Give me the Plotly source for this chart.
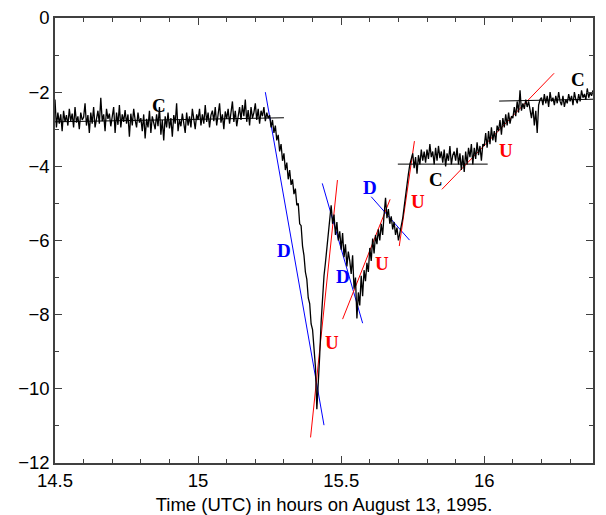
import plotly.graph_objects as go

T0 = 14.5
DT = 0.005

signal = [
    -2.20, -2.95, -2.55, -2.85, -2.60, -3.05, -2.50, -2.80, -2.62, -2.90,
    -2.45, -2.78, -2.58, -2.95, -2.40, -2.82, -2.65, -3.00, -2.55, -2.75,
    -2.68, -2.30, -2.90, -2.62, -3.10, -2.55, -2.85, -2.40, -2.95, -2.70,
    -2.50, -2.85, -2.15, -2.78, -2.60, -3.05, -2.45, -2.72, -2.58, -2.92,
    -2.62, -2.40, -3.10, -2.55, -2.88, -2.35, -2.95, -2.60, -2.80, -2.48,
    -2.85, -2.60, -3.20, -2.58, -2.90, -2.45, -2.75, -2.95, -2.55, -2.82,
    -2.70, -3.05, -2.60, -3.25, -2.72, -2.95, -2.50, -3.10, -2.65, -2.88,
    -3.00, -2.60, -2.92, -2.40, -3.15, -2.75, -3.30, -2.65, -2.95, -2.55,
    -2.98, -2.70, -3.20, -2.62, -2.85, -2.30, -3.05, -2.75, -2.92, -2.58,
    -2.80, -3.10, -2.55, -2.90, -2.65, -2.95, -2.45, -2.78, -3.00, -2.60,
    -2.75, -2.45, -2.90, -2.60, -2.85, -2.35, -2.80, -2.55, -2.95, -2.62,
    -2.50, -2.78, -2.40, -2.90, -2.58, -2.30, -2.82, -2.60, -3.00, -2.52,
    -2.72, -2.45, -2.85, -2.55, -2.25, -2.80, -2.50, -2.92, -2.60, -2.40,
    -2.75, -2.35, -2.65, -2.20, -2.80, -2.48, -2.90, -2.40, -2.70, -2.55,
    -2.30, -2.75, -2.45, -2.85, -2.50, -2.65, -2.40, -2.78, -2.55, -2.70,
    -2.62, -2.95, -2.75, -3.10, -2.90, -3.30, -3.15, -3.60, -3.40, -3.85,
    -3.65, -4.10, -3.90, -4.35, -4.10, -4.50, -4.35, -4.75, -4.60, -5.05,
    -5.00, -5.55, -5.60, -6.15, -6.40, -6.85, -7.05, -7.55, -7.70, -8.25,
    -8.40, -9.00, -9.40, -10.55, -9.90, -9.10, -8.20, -7.40, -6.95, -6.60,
    -6.20, -5.90, -5.60, -5.05, -5.55, -5.30, -5.85, -5.50, -6.00, -5.75,
    -6.25, -5.80, -6.45, -6.10, -6.70, -6.30, -6.55, -6.90, -6.40, -7.30,
    -7.00, -8.10, -7.40, -7.75, -6.95, -7.50, -6.80, -7.10, -6.60, -6.85,
    -6.20, -6.55, -5.95, -6.35, -5.85, -6.10, -5.70, -6.00, -5.55, -5.85,
    -5.30, -4.85, -5.40, -5.15, -5.55, -5.35, -5.70, -5.50, -5.85, -5.65,
    -6.00, -5.80, -5.70, -5.40, -5.10, -4.75, -4.45, -4.20, -3.95, -3.80,
    -3.65, -4.05, -3.75, -4.20, -3.70, -3.95, -3.55, -3.85, -3.60, -3.90,
    -3.55, -3.80, -3.40, -3.75, -3.60, -3.95, -3.50, -3.85, -3.45, -3.78,
    -3.60, -3.90, -3.55, -4.00, -3.65, -3.85, -3.45, -3.95, -3.70, -3.60,
    -3.85, -3.50, -3.95, -3.65, -4.10, -3.70, -4.15, -3.60, -3.95, -3.50,
    -3.75, -3.40, -3.95, -3.50, -3.80, -3.35, -3.70, -3.45, -3.85, -3.40,
    -3.45, -3.10, -3.50, -3.05, -3.40, -2.95, -3.30, -3.05, -3.35, -2.90,
    -3.05, -2.75, -3.15, -2.70, -2.95, -2.60, -2.90, -2.55, -2.85, -2.65,
    -2.70, -2.40, -2.65, -2.25, -2.55, -1.95, -2.50, -2.30, -2.45, -2.20,
    -2.40, -2.25, -2.50, -2.70, -2.40, -2.90, -2.50, -3.10, -2.35, -2.20,
    -2.15, -2.35, -2.05, -2.30, -2.10, -2.40, -2.00, -2.25, -2.15, -2.35,
    -2.10, -2.30, -2.00, -2.25, -2.35, -2.10, -2.40, -2.20, -2.30, -2.05,
    -2.25, -2.10, -2.35, -2.00, -2.20, -2.30, -2.05, -2.25, -1.95, -2.15,
    -2.05, -2.20, -1.90, -2.15, -2.00, -2.10, -1.95,
]
times = [T0 + DT * i for i in range(len(signal))]

# fitted segments: (t_start, v_start, t_end, v_end, colour)
fit_lines = [
    (14.50, -2.80, 15.30, -2.69, "black"),
    (15.235, -2.00, 15.44, -10.98, "blue"),
    (15.393, -11.31, 15.487, -4.37, "red"),
    (15.434, -4.46, 15.575, -8.23, "blue"),
    (15.505, -8.12, 15.671, -4.89, "red"),
    (15.605, -4.82, 15.739, -5.99, "blue"),
    (15.703, -6.15, 15.756, -3.32, "red"),
    (15.698, -3.94, 16.012, -3.94, "black"),
    (15.852, -4.62, 16.244, -1.49, "red"),
    (16.052, -2.24, 16.381, -2.19, "black"),
]

labels = [
    (14.863, -2.35, "C", "black"),
    (15.300, -6.26, "D", "blue"),
    (15.469, -8.76, "U", "red"),
    (15.506, -6.98, "D", "blue"),
    (15.644, -6.63, "U", "red"),
    (15.601, -4.57, "D", "blue"),
    (15.770, -4.95, "U", "red"),
    (15.832, -4.35, "C", "black"),
    (16.076, -3.56, "U", "red"),
    (16.328, -1.65, "C", "black"),
]

x_ticks = [14.5, 15, 15.5, 16]
x_tick_text = ["14.5", "15", "15.5", "16"]

fig = go.Figure()
for t0, v0, t1, v1, col in fit_lines:
    fig.add_trace(go.Scatter(x=[t0, t1], y=[v0, v1], mode="lines",
                             line=dict(color=col, width=1), showlegend=False,
                             hoverinfo="skip"))
fig.add_trace(go.Scatter(x=times, y=signal, mode="lines",
                         line=dict(color="black", width=1.3), showlegend=False))

for t, v, s, col in labels:
    fig.add_annotation(x=t, y=v, text="<b>" + s + "</b>", showarrow=False,
                       font=dict(family="Liberation Serif", size=19, color=col))

axis_common = dict(showgrid=False, zeroline=False, showline=True,
                   linecolor="#404040", linewidth=1.5, mirror="ticks",
                   ticks="inside", ticklen=7, tickwidth=1.2, tickcolor="#404040",
                   automargin=False,
                   tickfont=dict(family="Liberation Sans", size=18.5, color="black"))

fig.update_xaxes(range=[14.5, 16.38], tickvals=x_ticks, ticktext=x_tick_text,
                 minor=dict(dtick=0.1, tick0=14.5, ticks="inside", ticklen=4,
                            tickcolor="#404040", tickwidth=1),
                 title=dict(text="Time (UTC) in hours on August 13, 1995.",
                            font=dict(family="Liberation Sans", size=18.5, color="black"),
                            standoff=12),
                 **axis_common)
fig.update_yaxes(range=[-12, 0], dtick=2, tick0=0,
                 minor=dict(dtick=1, ticks="inside", ticklen=4,
                            tickcolor="#404040", tickwidth=1),
                 **axis_common)

fig.update_layout(width=606, height=515, margin=dict(l=55, r=13, t=18, b=52),
                  plot_bgcolor="white", paper_bgcolor="white")

fig.write_html("out.html", config={"displayModeBar": False},
               post_script="document.body.style.margin='0';")
